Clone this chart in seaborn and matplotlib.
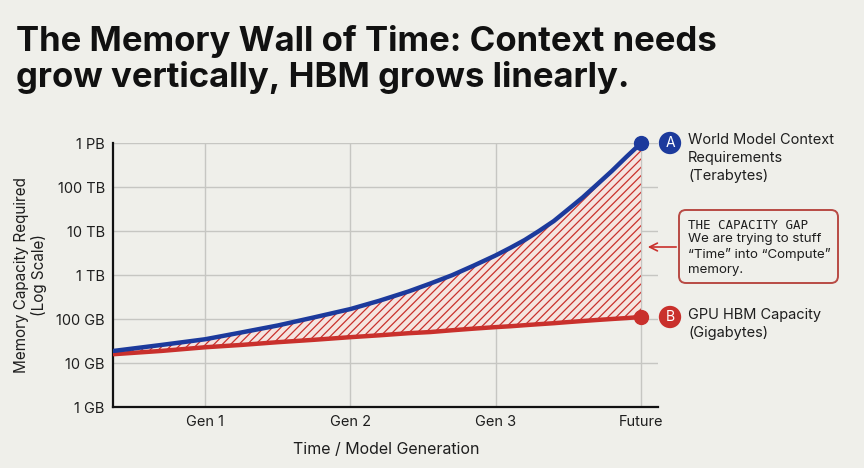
import pandas as pd
import matplotlib.pyplot as plt
import seaborn as sns
from matplotlib.patches import FancyBboxPatch
from matplotlib.transforms import IdentityTransform

# values (capacity in GB, x in model generations)
gens = [0.37, 0.7, 1.0, 1.25, 1.5, 1.75, 2.0, 2.2, 2.4, 2.55, 2.7, 2.85,
        3.0, 3.1, 3.2, 3.3, 3.4, 3.5, 3.6, 3.7, 3.8, 3.9, 4.0]
context_gb = [19, 26, 35, 50, 72, 110, 170, 263, 427, 646, 1000, 1660,
              2820, 4170, 6310, 10200, 17000, 31600, 58900, 117000, 234000, 490000, 1000000]
hbm_gb = [16, 19, 23, 26, 30, 34, 39, 43, 48, 51, 56, 61,
          66, 69, 73, 77, 81, 86, 91, 96, 101, 106, 112]

gen_ticks = [1, 2, 3, 4]
gen_labels = ['Gen 1', 'Gen 2', 'Gen 3', 'Future']
cap_ticks = [1, 10, 100, 1e3, 1e4, 1e5, 1e6]
cap_labels = ['1 GB', '10 GB', '100 GB', '1 TB', '10 TB', '100 TB', '1 PB']

bg = '#efefea'
blue = '#1c3a9c'
red = '#c9302c'

sns.set_theme(style='whitegrid')
plt.rcParams['font.family'] = ['Inter', 'DejaVu Sans']
plt.rcParams['hatch.linewidth'] = 0.9

df = pd.DataFrame({'gen': gens, 'context': context_gb, 'hbm': hbm_gb})

fig = plt.figure(figsize=(8.64, 4.68), dpi=100, facecolor=bg)
ax = fig.add_axes([0.131, 0.130, 0.631, 0.564])
ax.set_facecolor(bg)

ax.fill_between(df.gen, df.hbm, df.context, facecolor='#f5e4e0',
                edgecolor=red, hatch='////', linewidth=0, zorder=2)
sns.lineplot(data=df, x='gen', y='context', color=blue, linewidth=3.2, ax=ax, zorder=4)
sns.lineplot(data=df, x='gen', y='hbm', color=red, linewidth=3.2, ax=ax, zorder=3)
ax.plot(df.gen.iloc[-1], df.context.iloc[-1], 'o', color=blue, markersize=10, clip_on=False, zorder=5)
ax.plot(df.gen.iloc[-1], df.hbm.iloc[-1], 'o', color=red, markersize=10, clip_on=False, zorder=5)

ax.set_yscale('log')
ax.set(xlim=(0.366, 4.12), ylim=(1, 1e6))
ax.set_xticks(gen_ticks)
ax.set_xticklabels(gen_labels)
ax.set_yticks(cap_ticks)
ax.set_yticklabels(cap_labels)
ax.minorticks_off()
ax.tick_params(length=0, labelsize=10.5, labelcolor='#1e1e1e', pad=6)
ax.grid(True, color='#c6c6c2', linewidth=1)
for side in ['top', 'right']:
    ax.spines[side].set_visible(False)
for side in ['left', 'bottom']:
    ax.spines[side].set_color('#111111')
    ax.spines[side].set_linewidth(1.6)

ax.set_xlabel('Time / Model Generation', fontsize=11.5, color='#1e1e1e', labelpad=9)
ax.set_ylabel('Memory Capacity Required\n(Log Scale)', fontsize=11, color='#1e1e1e',
              labelpad=7, linespacing=1.1)

fig.text(0.019, 0.946, 'The Memory Wall of Time: Context needs\ngrow vertically, HBM grows linearly.',
         fontsize=25, fontweight='bold', color='#111111', va='top', linespacing=1.1)

# series labels
fig.text(670 / 864, 1 - 143 / 468, 'A', color='white', fontsize=10, ha='center', va='center',
         bbox=dict(boxstyle='circle,pad=0.3', fc=blue, ec='none'))
fig.text(688 / 864, 1 - 133 / 468, 'World Model Context\nRequirements\n(Terabytes)',
         fontsize=10.5, color='#1e1e1e', va='top', linespacing=1.35)
fig.text(670 / 864, 1 - 317 / 468, 'B', color='white', fontsize=10, ha='center', va='center',
         bbox=dict(boxstyle='circle,pad=0.3', fc=red, ec='none'))
fig.text(688 / 864, 1 - 308 / 468, 'GPU HBM Capacity\n(Gigabytes)',
         fontsize=10.5, color='#1e1e1e', va='top', linespacing=1.35)

# capacity gap callout
box = FancyBboxPatch((679, 468 - 283), 159, 73, boxstyle='round,pad=0,rounding_size=7',
                     transform=IdentityTransform(), facecolor=bg, edgecolor='#b84a44', linewidth=1.4)
fig.add_artist(box)
fig.text(688 / 864, 1 - 225 / 468, 'THE CAPACITY GAP', family='DejaVu Sans Mono',
         fontsize=9, color='#1e1e1e', va='center')
fig.text(688 / 864, 1 - 233 / 468, 'We are trying to stuff\n\u201cTime\u201d into \u201cCompute\u201d\nmemory.',
         fontsize=9.6, color='#1e1e1e', va='top', linespacing=1.3)
ax.annotate('', xy=(645, 468 - 247), xycoords='figure pixels',
            xytext=(679, 468 - 247), textcoords='figure pixels',
            arrowprops=dict(arrowstyle='->', color=red, lw=1.2, mutation_scale=14))

fig.savefig('out.png', dpi=100, facecolor=bg)
